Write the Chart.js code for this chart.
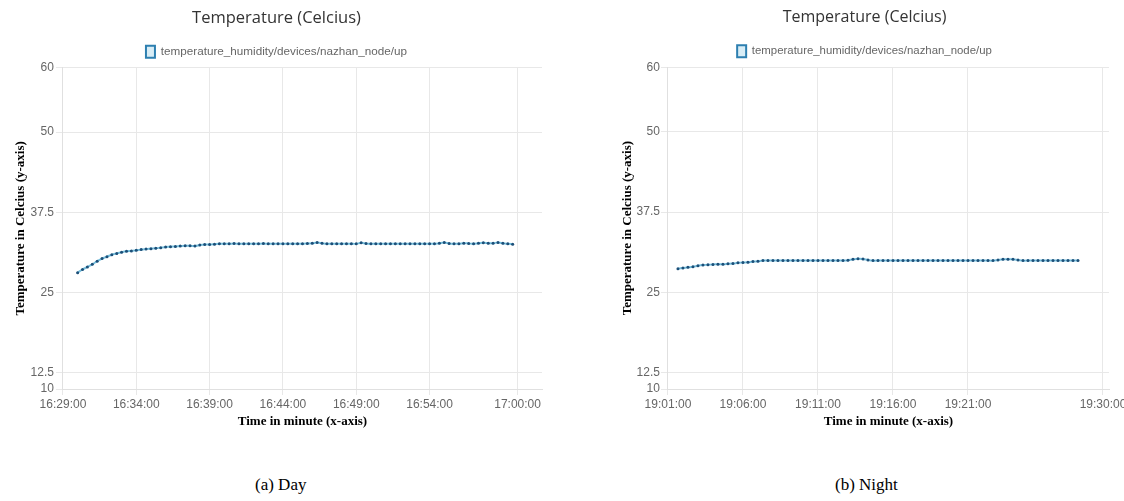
<!DOCTYPE html>
<html>
<head>
<meta charset="utf-8">
<script src="https://cdn.jsdelivr.net/npm/chart.js@4.4.1/dist/chart.umd.min.js"></script>
<style>
  html, body { margin: 0; padding: 0; background: #fff; width: 1124px; height: 501px; overflow: hidden; }
  .box { position: absolute; top: 0; height: 436px; }
  #dayBox { left: 0; width: 562px; }
  #nightBox { left: 607px; width: 530px; }
  .caption { position: absolute; top: 475px; font-family: "Liberation Serif", serif; font-size: 17px; color: #000; }
</style>
</head>
<body>
<div class="box" id="dayBox"><canvas id="dayChart"></canvas></div>
<div class="box" id="nightBox"><canvas id="nightChart"></canvas></div>
<div class="caption" style="left:255px">(a) Day</div>
<div class="caption" style="left:835px">(b) Night</div>
<script>
// Day readings (every 20 s)
const dayTimes = [
  '16:30:00','16:30:20','16:30:40','16:31:00','16:31:20','16:31:40','16:32:00','16:32:20','16:32:40','16:33:00',
  '16:33:20','16:33:40','16:34:00','16:34:20','16:34:40','16:35:00','16:35:20','16:35:40','16:36:00','16:36:20',
  '16:36:40','16:37:00','16:37:20','16:37:40','16:38:00','16:38:20','16:38:40','16:39:00','16:39:20','16:39:40',
  '16:40:00','16:40:20','16:40:40','16:41:00','16:41:20','16:41:40','16:42:00','16:42:20','16:42:40','16:43:00',
  '16:43:20','16:43:40','16:44:00','16:44:20','16:44:40','16:45:00','16:45:20','16:45:40','16:46:00','16:46:20',
  '16:46:40','16:47:00','16:47:20','16:47:40','16:48:00','16:48:20','16:48:40','16:49:00','16:49:20','16:49:40',
  '16:50:00','16:50:20','16:50:40','16:51:00','16:51:20','16:51:40','16:52:00','16:52:20','16:52:40','16:53:00',
  '16:53:20','16:53:40','16:54:00','16:54:20','16:54:40','16:55:00','16:55:20','16:55:40','16:56:00','16:56:20',
  '16:56:40','16:57:00','16:57:20','16:57:40','16:58:00','16:58:20','16:58:40','16:59:00','16:59:20','16:59:40'
];
const dayTemps = [
  28.1, 28.6, 29.0, 29.4, 29.9, 30.3, 30.6, 30.9, 31.1, 31.3,
  31.45, 31.5, 31.6, 31.7, 31.8, 31.85, 31.9, 32.0, 32.1, 32.15,
  32.2, 32.25, 32.3, 32.3, 32.25, 32.4, 32.5, 32.5, 32.55, 32.6,
  32.6, 32.6, 32.65, 32.6, 32.6, 32.6, 32.6, 32.6, 32.65, 32.6,
  32.6, 32.6, 32.6, 32.6, 32.6, 32.6, 32.6, 32.65, 32.7, 32.8,
  32.7, 32.6, 32.6, 32.6, 32.6, 32.6, 32.6, 32.6, 32.75, 32.65,
  32.6, 32.6, 32.6, 32.6, 32.6, 32.6, 32.6, 32.6, 32.6, 32.6,
  32.6, 32.6, 32.6, 32.6, 32.7, 32.8, 32.65, 32.6, 32.6, 32.7,
  32.65, 32.6, 32.7, 32.75, 32.7, 32.7, 32.8, 32.7, 32.6, 32.55
];
const dayTicks = ['16:29:00','16:34:00','16:39:00','16:44:00','16:49:00','16:54:00','17:00:00'];
const dayRange = ['16:29:00', '17:01:40'];

// Night readings (every 20 s)
const nightTimes = [
  '19:01:40','19:02:00','19:02:20','19:02:40','19:03:00','19:03:20','19:03:40','19:04:00','19:04:20','19:04:40',
  '19:05:00','19:05:20','19:05:40','19:06:00','19:06:20','19:06:40','19:07:00','19:07:20','19:07:40','19:08:00',
  '19:08:20','19:08:40','19:09:00','19:09:20','19:09:40','19:10:00','19:10:20','19:10:40','19:11:00','19:11:20',
  '19:11:40','19:12:00','19:12:20','19:12:40','19:13:00','19:13:20','19:13:40','19:14:00','19:14:20','19:14:40',
  '19:15:00','19:15:20','19:15:40','19:16:00','19:16:20','19:16:40','19:17:00','19:17:20','19:17:40','19:18:00',
  '19:18:20','19:18:40','19:19:00','19:19:20','19:19:40','19:20:00','19:20:20','19:20:40','19:21:00','19:21:20',
  '19:21:40','19:22:00','19:22:20','19:22:40','19:23:00','19:23:20','19:23:40','19:24:00','19:24:20','19:24:40',
  '19:25:00','19:25:20','19:25:40','19:26:00','19:26:20','19:26:40','19:27:00','19:27:20','19:27:40','19:28:00',
  '19:28:20'
];
const nightTemps = [
  28.7, 28.8, 28.9, 29.0, 29.15, 29.25, 29.3, 29.35, 29.4, 29.4,
  29.45, 29.5, 29.6, 29.65, 29.7, 29.8, 29.85, 29.95, 29.95, 29.95,
  29.95, 29.95, 29.95, 29.95, 29.95, 29.95, 29.95, 29.95, 29.95, 29.95,
  29.95, 29.95, 29.95, 29.95, 30.0, 30.15, 30.25, 30.2, 30.05, 29.95,
  29.95, 29.95, 29.95, 29.95, 29.95, 29.95, 29.95, 29.95, 29.95, 29.95,
  29.95, 29.95, 29.95, 29.95, 29.95, 29.95, 29.95, 29.95, 29.95, 29.95,
  29.95, 29.95, 29.95, 29.95, 30.05, 30.15, 30.15, 30.15, 30.05, 29.95,
  29.95, 29.95, 29.95, 29.95, 29.95, 29.95, 29.95, 29.95, 29.95, 29.95,
  29.95
];
const nightTicks = ['19:01:00','19:06:00','19:11:00','19:16:00','19:21:00','19:30:00'];
const nightRange = ['19:01:00', '19:30:24'];

const yTicks = [10, 12.5, 25, 37.5, 50, 60];
const seriesName = 'temperature_humidity/devices/nazhan_node/up';

function toSec(s) {
    const [h, m, sec] = s.split(':').map(Number);
    return h * 3600 + m * 60 + sec;
}

function fmtTime(v) {
    const h = Math.floor(v / 3600);
    const m = Math.floor((v % 3600) / 60);
    const s = v % 60;
    return [h, m, s].map(n => String(n).padStart(2, '0')).join(':');
}

// look: per-panel sizing tweaks (the two screenshots differ slightly)
function makeChart(id, times, temps, ticks, range, look) {
    const ctx = document.getElementById(id).getContext('2d');
    const points = times.map((t, i) => ({ x: toSec(t), y: temps[i] }));

    return new Chart(ctx, {
        type: 'line',
        data: {
            datasets: [{
                label: seriesName,
                data: points,
                borderColor: 'rgba(95, 180, 215, 0.85)',
                backgroundColor: 'rgba(190, 225, 240, 0.6)',
                borderWidth: 2,
                pointRadius: 1.5,
                pointBackgroundColor: '#1d4f78',
                pointBorderColor: '#1d4f78',
                pointBorderWidth: 0,
                fill: false,
                tension: 0.3
            }]
        },
        options: {
            responsive: true,
            maintainAspectRatio: false,
            animation: false,
            layout: { padding: { left: look.padLeft, right: look.padRight, top: 0, bottom: 0 } },
            plugins: {
                title: {
                    display: true,
                    text: 'Temperature (Celcius)',
                    color: '#333',
                    font: { family: 'Open Sans', size: look.titleSize, weight: 'normal' },
                    padding: { top: 8, bottom: 10 }
                },
                legend: {
                    display: true,
                    labels: {
                        boxWidth: 9,
                        boxHeight: 12,
                        color: '#666',
                        font: { family: 'Liberation Sans', size: look.legendSize },
                        padding: 8,
                        generateLabels: (chart) => [{
                            text: seriesName,
                            fillStyle: 'rgba(190, 225, 240, 0.6)',
                            strokeStyle: '#2d7fb0',
                            lineWidth: 2,
                            datasetIndex: 0,
                            fontColor: '#666'
                        }]
                    }
                },
                tooltip: { enabled: false }
            },
            scales: {
                x: {
                    type: 'linear',
                    min: toSec(range[0]),
                    max: toSec(range[1]),
                    afterBuildTicks: (axis) => {
                        axis.ticks = ticks.map(t => ({ value: toSec(t) }));
                    },
                    grid: { color: '#e8e8e8', tickLength: 6 },
                    border: { color: '#e0e0e0' },
                    ticks: {
                        color: '#666',
                        font: { family: 'Liberation Sans', size: 12 },
                        maxRotation: 0,
                        autoSkip: false,
                        padding: 2,
                        callback: (v) => fmtTime(v)
                    },
                    title: {
                        display: true,
                        text: 'Time in minute (x-axis)',
                        color: '#000',
                        font: { family: 'Liberation Serif', size: 13, weight: 'bold' },
                        padding: { top: 0, bottom: 7 }
                    }
                },
                y: {
                    min: 10,
                    max: 60,
                    afterBuildTicks: (axis) => {
                        axis.ticks = yTicks.map(v => ({ value: v }));
                    },
                    grid: { color: '#e8e8e8', tickLength: 7 },
                    border: { color: '#e0e0e0' },
                    ticks: {
                        color: '#666',
                        font: { family: 'Liberation Sans', size: 12 },
                        padding: look.tickPad,
                        callback: (v) => String(v)
                    },
                    title: {
                        display: true,
                        text: 'Temperature in Celcius (y-axis)',
                        color: '#000',
                        font: { family: 'Liberation Serif', size: 13, weight: 'bold' },
                        padding: { top: look.yTitleTop, bottom: 0 }
                    }
                }
            }
        }
    });
}

makeChart('dayChart', dayTimes, dayTemps, dayTicks, dayRange,
    { padLeft: 11, padRight: 20, titleSize: 16.5, legendSize: 11.7, tickPad: 2, yTitleTop: 2 });
makeChart('nightChart', nightTimes, nightTemps, nightTicks, nightRange,
    { padLeft: 13, padRight: 28, titleSize: 16, legendSize: 11.4, tickPad: 1, yTitleTop: 0 });
</script>
</body>
</html>
